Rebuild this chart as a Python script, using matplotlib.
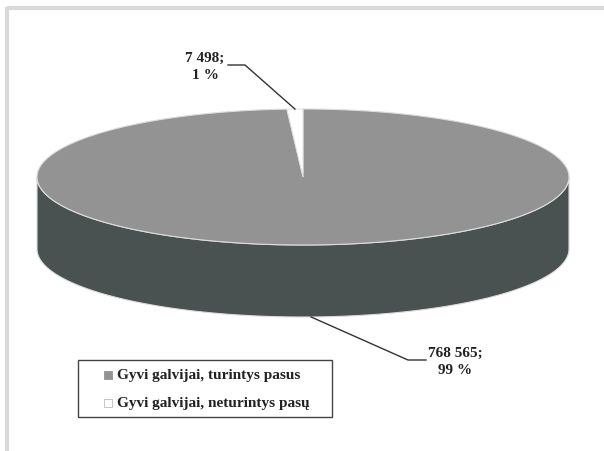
import numpy as np
import matplotlib.pyplot as plt
from matplotlib.patches import Polygon, Rectangle

# duomenys
categories = ['Gyvi galvijai, turintys pasus', 'Gyvi galvijai, neturintys pasų']
values = [768565, 7498]
value_labels = ['768 565;\n99 %', '7 498;\n1 %']
colors = ['#939393', '#ffffff']
side_color = '#4a5251'

W, H = 604, 452
fig = plt.figure(figsize=(W / 100, H / 100), dpi=100)
ax = fig.add_axes([0, 0, 1, 1])
ax.set_xlim(0, W)
ax.set_ylim(H, 0)
ax.axis('off')

# rėmelis
ax.plot([7, W], [9, 9], color='#d9d9d9', lw=3, solid_capstyle='butt')
ax.plot([7, 7], [8, H], color='#d9d9d9', lw=3, solid_capstyle='butt')

# 3D pyrago geometrija
cx, cy, a, b, depth = 303, 178, 266, 68, 72
total = sum(values)
frac_small = values[1] / total
start = -np.pi / 2  # viršus
small_end = start - 2 * np.pi * frac_small


def pt(t, dy=0):
    return cx + a * np.cos(t), cy + dy + b * np.sin(t)


# šonas (priekinė pusė)
t = np.linspace(0, np.pi, 200)
side = [pt(x) for x in t] + [pt(x, depth) for x in t[::-1]]
ax.add_patch(Polygon(side, closed=True, facecolor=side_color, edgecolor='#dcdcdc', lw=0.8))

# viršus: didelis sektorius
t_big = np.linspace(start, small_end + 2 * np.pi, 400)
big = [(cx, cy)] + [pt(x) for x in t_big]
ax.add_patch(Polygon(big, closed=True, facecolor=colors[0], edgecolor='#dcdcdc', lw=0.8))
# mažas sektorius
t_small = np.linspace(small_end, start, 20)
small = [(cx, cy)] + [pt(x) for x in t_small]
ax.add_patch(Polygon(small, closed=True, facecolor=colors[1], edgecolor='#dcdcdc', lw=0.6))

# etikečių linijos
mid_big = start + (2 * np.pi - 2 * np.pi * frac_small) / 2
mid_small = start - np.pi * frac_small
p1 = pt(mid_big, depth)
ax.plot([p1[0], 408, 426], [p1[1], 361, 361], color='#333333', lw=1)
p2 = pt(mid_small)
ax.plot([p2[0], 245, 228], [p2[1], 66, 66], color='#333333', lw=1)

fnt = dict(family='Liberation Serif', fontweight='bold', fontsize=11, color='#222222')
ax.text(455, 362, value_labels[0], ha='center', va='center', linespacing=1.35, **fnt)
ax.text(205, 67, value_labels[1], ha='center', va='center', linespacing=1.35, **fnt)

# legenda
ax.add_patch(Rectangle((78, 361), 254, 57, facecolor='white', edgecolor='#444444', lw=1))
for i, (lab, c) in enumerate(zip(categories, colors)):
    y = 376 + i * 28
    ax.add_patch(Rectangle((104, y - 4), 8, 8, facecolor=c, edgecolor='#bbbbbb' if c == '#ffffff' else c, lw=0.6))
    ax.text(117, y, lab, ha='left', va='center', **fnt)

fig.savefig('out.png', dpi=100)
